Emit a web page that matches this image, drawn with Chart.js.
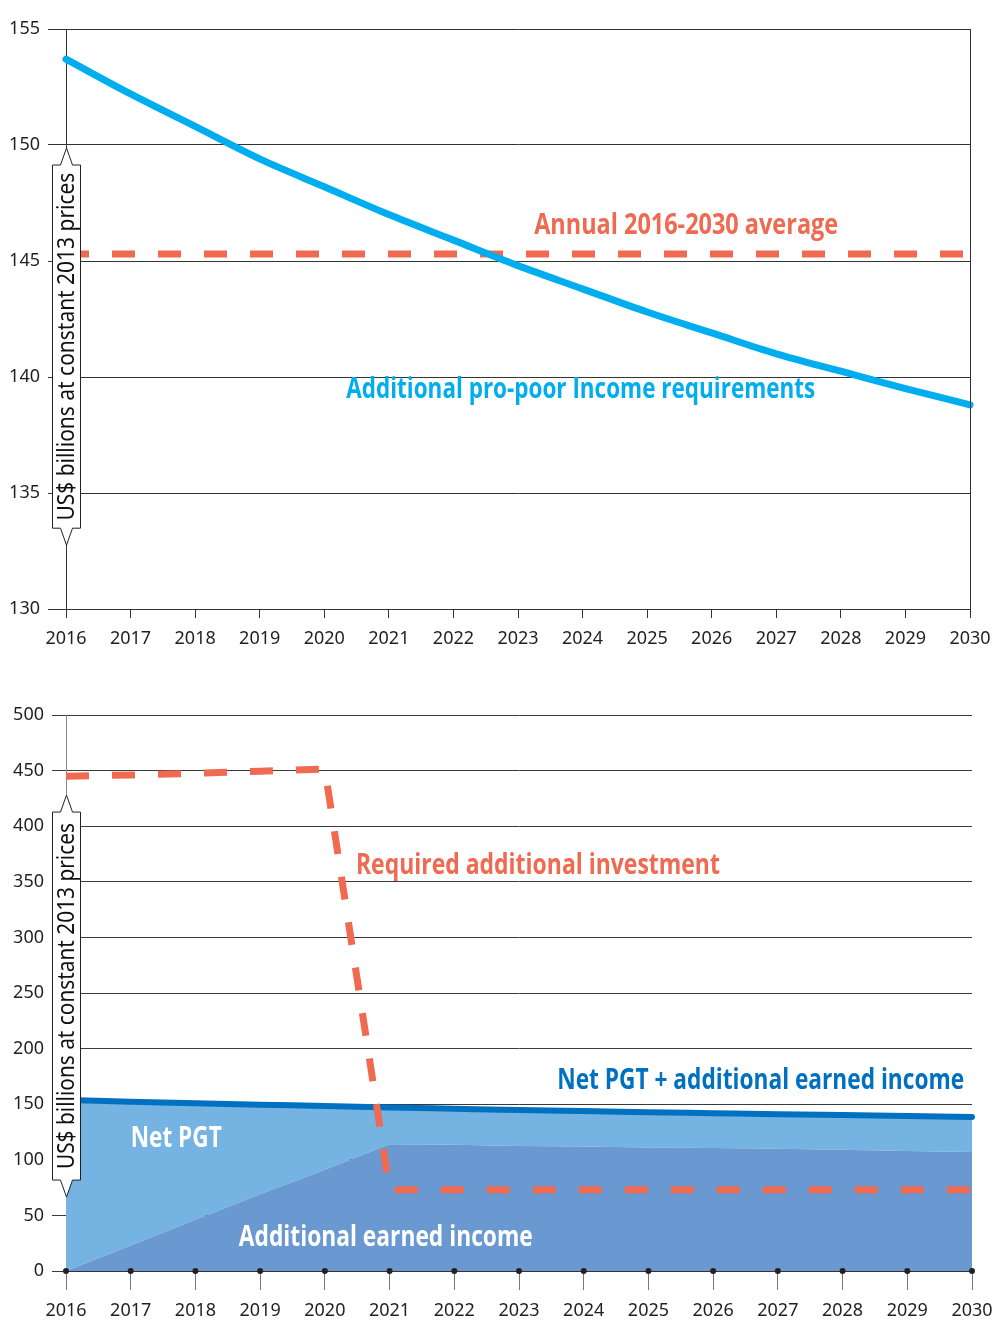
<!DOCTYPE html>
<html>
<head>
<meta charset="utf-8">
<script src="https://cdn.jsdelivr.net/npm/chart.js@4.4.1/dist/chart.umd.min.js"></script>
<style>
  html, body { margin: 0; padding: 0; background: #fff; }
  canvas { display: block; }
</style>
</head>
<body>
<canvas id="incomeChart" width="993" height="660"></canvas>
<canvas id="investChart" width="993" height="660"></canvas>
<script>
// --- data ---
const years = ['2016', '2017', '2018', '2019', '2020', '2021', '2022', '2023', '2024', '2025', '2026', '2027', '2028', '2029', '2030'];

// top panel
const proPoorIncome = [153.7, 152.2, 150.8, 149.4, 148.2, 147.0, 145.9, 144.8, 143.8, 142.8, 141.9, 141.0, 140.25, 139.5, 138.8];
const annualAverage = [145.3, 145.3, 145.3, 145.3, 145.3, 145.3, 145.3, 145.3, 145.3, 145.3, 145.3, 145.3, 145.3, 145.3, 145.3];

// bottom panel
const requiredInvestment = [445, 446, 447.5, 449.5, 451.5, 73, 73, 73, 73, 73, 73, 73, 73, 73, 73];
const earnedIncome = [0, 23, 46, 69, 91, 114, 113.5, 112.5, 112, 111, 110.5, 110, 109, 108, 107];
const netPgtPlusEarned = [153.8, 152.3, 150.9, 149.6, 148.3, 147.0, 145.9, 144.8, 143.8, 142.8, 141.9, 141.0, 140.2, 139.4, 138.6];
const axisDots = [0, 0, 0, 0, 0, 0, 0, 0, 0, 0, 0, 0, 0, 0, 0];

const topTicks = { min: 130, max: 155, step: 5 };
const bottomTicks = { min: 0, max: 500, step: 50 };

const axisTitle = 'US$ billions at constant 2013 prices';

const ORANGE = '#EF6A50';
const CYAN = '#00AEEF';
const DARK_BLUE = '#0070C0';
const LIGHT_AREA = '#75B3E3';
const DARK_AREA = '#6999D0';
const INK = '#231F20';
const TICK_FONT = { family: '"Noto Sans", sans-serif', size: 18 };

// draws the in-chart labels, the rotated axis callout and the frame
const decorPlugin = {
    id: 'decor',
    afterDatasetsDraw(chart, args, opts) {
        const ctx = chart.ctx;
        const x = chart.scales.x;
        const y = chart.scales.y;
        const area = chart.chartArea;

        if (opts.rightBorder) {
            ctx.save();
            ctx.strokeStyle = '#333';
            ctx.lineWidth = 1;
            ctx.beginPath();
            ctx.moveTo(Math.round(area.right) + 0.5, area.top);
            ctx.lineTo(Math.round(area.right) + 0.5, area.bottom);
            ctx.stroke();
            ctx.restore();
        }

        // text labels, squeezed to look condensed
        (opts.labels || []).forEach(item => {
            ctx.save();
            ctx.font = `bold ${item.size}px "Open Sans", sans-serif`;
            const w = ctx.measureText(item.text).width;
            const px = x.getPixelForValue(item.year - 2016);
            const py = y.getPixelForValue(item.value);
            ctx.translate(px, py);
            ctx.scale(item.width / w, 1);
            ctx.fillStyle = item.color;
            ctx.textAlign = 'left';
            ctx.textBaseline = 'middle';
            ctx.fillText(item.text, 0, 0);
            ctx.restore();
        });

        // y axis title in a box with pointed ends
        const box = opts.axisBox;
        if (box) {
            const cx = Math.round(area.left) + 0.5;
            const top = y.getPixelForValue(box.from);
            const bottom = y.getPixelForValue(box.to);
            const hw = 14, aw = 6, ah = 17;
            ctx.save();
            ctx.beginPath();
            ctx.moveTo(cx, top);
            ctx.lineTo(cx + aw, top + ah);
            ctx.lineTo(cx + hw, top + ah);
            ctx.lineTo(cx + hw, bottom - ah);
            ctx.lineTo(cx + aw, bottom - ah);
            ctx.lineTo(cx, bottom);
            ctx.lineTo(cx - aw, bottom - ah);
            ctx.lineTo(cx - hw, bottom - ah);
            ctx.lineTo(cx - hw, top + ah);
            ctx.lineTo(cx - aw, top + ah);
            ctx.closePath();
            ctx.fillStyle = '#fff';
            ctx.fill();
            ctx.strokeStyle = '#222';
            ctx.lineWidth = 1;
            ctx.stroke();

            ctx.font = '23px "Noto Sans", sans-serif';
            const tw = ctx.measureText(axisTitle).width;
            ctx.translate(cx, (top + bottom) / 2);
            ctx.rotate(-Math.PI / 2);
            ctx.scale(box.length / tw, 1);
            ctx.fillStyle = '#111';
            ctx.textAlign = 'center';
            ctx.textBaseline = 'middle';
            ctx.fillText(axisTitle, 0, 1);
            ctx.restore();
        }
    }
};

function fixWidth(px) { return function(scale) { scale.width = px; }; }
function fixHeight(px) {
    return function(scale) {
        scale.height = px;
        scale.paddingLeft = 0;
        scale.paddingRight = 0;
    };
}

// ---------- top chart ----------
new Chart(document.getElementById('incomeChart').getContext('2d'), {
    type: 'line',
    data: {
        labels: years,
        datasets: [
            {
                label: 'Additional pro-poor Income requirements',
                data: proPoorIncome,
                borderColor: CYAN,
                borderWidth: 7,
                borderCapStyle: 'round',
                cubicInterpolationMode: 'monotone',
                pointRadius: 0,
                clip: 6,
                fill: false
            },
            {
                label: 'Annual 2016-2030 average',
                data: annualAverage,
                borderColor: ORANGE,
                borderWidth: 7,
                borderDash: [23, 23],
                pointRadius: 0,
                fill: false
            }
        ]
    },
    options: {
        responsive: false,
        animation: false,
        events: [],
        layout: { padding: { top: 29, right: 23, left: 0, bottom: 0 } },
        plugins: {
            legend: { display: false },
            tooltip: { enabled: false },
            decor: {
                rightBorder: true,
                axisBox: { from: 149.87, to: 132.75, length: 348 },
                labels: [
                    { text: 'Annual 2016-2030 average', year: 2023.25, value: 146.5, width: 304, size: 28, color: ORANGE },
                    { text: 'Additional pro-poor Income requirements', year: 2020.34, value: 139.45, width: 469, size: 28, color: CYAN }
                ]
            }
        },
        scales: {
            x: {
                offset: false,
                afterFit: fixHeight(51),
                grid: { drawOnChartArea: false, drawTicks: true, tickLength: 9, color: '#333' },
                border: { color: '#333', width: 1 },
                ticks: { color: INK, font: TICK_FONT, padding: 10, maxRotation: 0, autoSkip: false }
            },
            y: {
                min: topTicks.min,
                max: topTicks.max,
                afterFit: fixWidth(66),
                grid: { color: '#333', lineWidth: 1, tickLength: 18 },
                border: { color: '#333', width: 1 },
                ticks: { stepSize: topTicks.step, color: INK, font: TICK_FONT, padding: 8 }
            }
        }
    },
    plugins: [decorPlugin]
});

// ---------- bottom chart ----------
new Chart(document.getElementById('investChart').getContext('2d'), {
    type: 'line',
    data: {
        labels: years,
        datasets: [
            {
                label: 'Required additional investment',
                data: requiredInvestment,
                borderColor: ORANGE,
                borderWidth: 7,
                borderDash: [23, 23],
                tension: 0,
                pointRadius: 0,
                fill: false
            },
            {
                label: 'axis dots',
                data: axisDots,
                showLine: false,
                pointRadius: 3,
                pointBackgroundColor: '#222',
                pointBorderWidth: 0,
                clip: false,
                fill: false
            },
            {
                label: 'Additional earned income',
                data: earnedIncome,
                borderWidth: 0,
                borderColor: DARK_AREA,
                backgroundColor: DARK_AREA,
                pointRadius: 0,
                tension: 0,
                fill: 'origin'
            },
            {
                label: 'Net PGT + additional earned income',
                data: netPgtPlusEarned,
                borderColor: DARK_BLUE,
                borderWidth: 6,
                borderCapStyle: 'round',
                backgroundColor: LIGHT_AREA,
                pointRadius: 0,
                cubicInterpolationMode: 'monotone',
                clip: 6,
                fill: '-1'
            }
        ]
    },
    options: {
        responsive: false,
        animation: false,
        events: [],
        layout: { padding: { top: 55, right: 21, left: 0, bottom: 0 } },
        plugins: {
            legend: { display: false },
            tooltip: { enabled: false },
            filler: { propagate: false },
            decor: {
                axisBox: { from: 428, to: 66.5, length: 346 },
                labels: [
                    { text: 'Required additional investment', year: 2020.48, value: 364, width: 364, size: 28, color: ORANGE },
                    { text: 'Net PGT + additional earned income', year: 2023.59, value: 171, width: 407, size: 28, color: DARK_BLUE },
                    { text: 'Net PGT', year: 2017.0, value: 118.7, width: 91, size: 28, color: '#fff' },
                    { text: 'Additional earned income', year: 2018.67, value: 29.7, width: 294, size: 28, color: '#fff' }
                ]
            }
        },
        scales: {
            x: {
                offset: false,
                afterFit: fixHeight(49),
                grid: { drawOnChartArea: false, drawTicks: true, tickLength: 19, color: '#777' },
                border: { color: '#333', width: 1 },
                ticks: { color: INK, font: TICK_FONT, padding: 10, maxRotation: 0, autoSkip: false }
            },
            y: {
                min: bottomTicks.min,
                max: bottomTicks.max,
                z: 1,
                afterFit: fixWidth(66),
                grid: { color: '#3a3a3a', lineWidth: 1, tickLength: 14 },
                border: { color: '#888', width: 1 },
                ticks: { stepSize: bottomTicks.step, color: INK, font: TICK_FONT, padding: 8 }
            }
        }
    },
    plugins: [decorPlugin]
});
</script>
</body>
</html>
